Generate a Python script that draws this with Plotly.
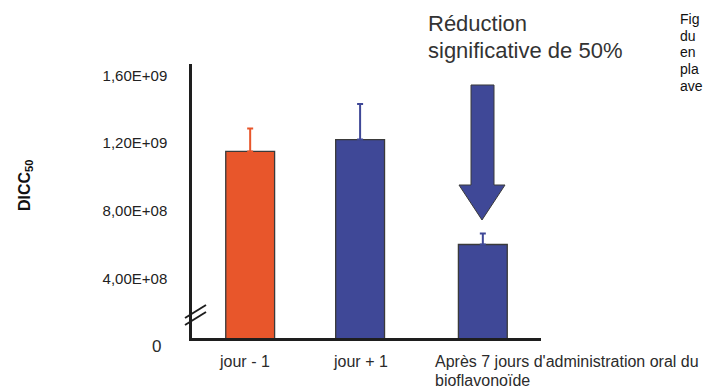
import plotly.graph_objects as go

# ---- data ----
categories = ["jour - 1", "jour + 1", "Après 7 jours d'administration oral du<br>bioflavonoïde"]
values = [1.15e9, 1.22e9, 6.0e8]
errors_up = [1.35e8, 2.1e8, 6.5e7]
tick_values = [4e8, 8e8, 1.2e9, 1.6e9]
tick_labels = ["4,00E+08", "8,00E+08", "1,20E+09", "1,60E+09"]
zero_label = "0"
y_title = "DICC<sub>50</sub>"
note_lines = ["Réduction", "significative de 50%"]
side_lines = ["Fig", "du", "en", "pla", "ave"]

# ---- style ----
ORANGE = "#E8562B"
BLUE = "#3F4897"
EDGE = "#3a3a3a"
FONT = "Liberation Sans, Arial, sans-serif"
W, H = 705, 390
L, R, T, B = 192, 164, 64, 52
PW, PH = W - L - R, H - T - B
bar_colors = [ORANGE, BLUE, BLUE]
bar_shift = [0.0, -0.055, 0.0]
BW = 0.42


def px(xp):
    return (xp - L) / PW


def py(yp):
    return (H - B - yp) / PH


fig = go.Figure()
for i, cat in enumerate(categories):
    fig.add_trace(go.Bar(
        x=[cat], y=[values[i]],
        width=[BW], offset=[-BW / 2 + bar_shift[i]],
        marker=dict(color=bar_colors[i], line=dict(color=EDGE, width=1.3)),
        error_y=dict(type="data", symmetric=False, array=[errors_up[i]], arrayminus=[0],
                     color=bar_colors[i], thickness=2, width=3),
        showlegend=False, hoverinfo="skip",
    ))

# scale: 0 sits 8 px below the drawn baseline (broken axis)
px_per_unit = (278 - 75) / (1.6e9 - 4e8)
y_lo = (346 - (H - B)) / px_per_unit
y_hi = y_lo + PH / px_per_unit

fig.update_layout(
    width=W, height=H,
    margin=dict(l=L, r=R, t=T, b=B, pad=0),
    paper_bgcolor="white", plot_bgcolor="white",
    barmode="overlay",
    font=dict(family=FONT, color="#2b2b2b"),
    xaxis=dict(type="category", range=[-0.5, 2.5], showticklabels=False,
               showline=True, linecolor="#1e1e1e", linewidth=2.5, ticks="",
               showgrid=False, zeroline=False, fixedrange=True),
    yaxis=dict(range=[y_lo, y_hi], tickvals=tick_values, ticktext=tick_labels,
               showline=True, linecolor="#1e1e1e", linewidth=2.5, ticks="",
               ticklabelstandoff=19, automargin=False,
               tickfont=dict(family="Liberation Sans Narrow, Liberation Sans, Arial", size=15, color="#222"),
               showgrid=False, zeroline=False, fixedrange=True),
)

ann = []
# zero label under the broken axis
ann.append(dict(x=px(156), y=py(346), xref="paper", yref="paper", text=zero_label,
                showarrow=False, xanchor="center", yanchor="middle",
                font=dict(size=17, color="#2b2b2b")))
# y title
ann.append(dict(x=px(25), y=py(185), xref="paper", yref="paper", text="<b>" + y_title + "</b>",
                textangle=-90, showarrow=False, xanchor="center", yanchor="middle",
                font=dict(size=16, color="#111")))
# category labels
ann.append(dict(x=px(244.5), y=py(362), xref="paper", yref="paper", text=categories[0],
                showarrow=False, xanchor="center", yanchor="middle", font=dict(size=16)))
ann.append(dict(x=px(360), y=py(362), xref="paper", yref="paper", text=categories[1],
                showarrow=False, xanchor="center", yanchor="middle", font=dict(size=16)))
for k, part in enumerate(categories[2].split("<br>")):
    ann.append(dict(x=px(433), y=py(362 + 18 * k), xref="paper", yref="paper", text=part,
                    showarrow=False, xanchor="left", yanchor="middle", align="left",
                    font=dict(size=16)))
# note above arrow
for k, line in enumerate(note_lines):
    ann.append(dict(x=px(426), y=py(23 + 28 * k), xref="paper", yref="paper", text=line,
                    showarrow=False, xanchor="left", yanchor="middle",
                    font=dict(size=22, color="#333")))
# clipped side caption
for k, line in enumerate(side_lines):
    ann.append(dict(x=px(678), y=py(19 + 16.7 * k), xref="paper", yref="paper", text=line,
                    showarrow=False, xanchor="left", yanchor="middle",
                    font=dict(size=14, color="#111")))
fig.update_layout(annotations=ann)

# block arrow pointing to the reduced bar
pts = [(471, 85), (494, 85), (494, 185), (505, 185), (482, 220), (459, 185), (471, 185)]
path = "M " + " L ".join(f"{px(a):.5f},{py(b):.5f}" for a, b in pts) + " Z"
shapes = [dict(type="path", xref="paper", yref="paper", path=path,
               fillcolor=BLUE, line=dict(color=EDGE, width=1))]
# axis break marks
for off in (0, 7):
    shapes.append(dict(type="line", xref="paper", yref="paper",
                       x0=px(185), y0=py(318 + off), x1=px(206), y1=py(305 + off),
                       line=dict(color="#1e1e1e", width=2)))
fig.update_layout(shapes=shapes)

fig.write_html("out.html", config={"displayModeBar": False},
               post_script="document.body.style.margin='0';document.body.style.overflow='hidden';")
